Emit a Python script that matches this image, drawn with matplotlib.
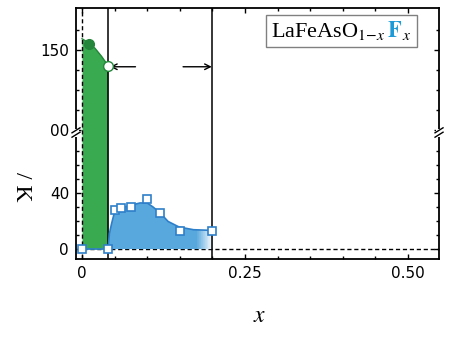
import numpy as np
import matplotlib.pyplot as plt
from matplotlib.patches import Rectangle
from matplotlib.offsetbox import AnchoredOffsetbox, HPacker, TextArea

plt.rcParams['mathtext.fontset'] = 'stix'

# Tc of the superconducting dome (open squares)
x_sc = [0, 0.04, 0.05, 0.06, 0.075, 0.10, 0.12, 0.15, 0.20]
t_sc = [0, 0, 27.6, 29.1, 30.2, 35.7, 25.7, 13.1, 13.1]

# guide-to-the-eye curve through the dome
x_sc_line = [0.04, 0.042, 0.0455, 0.05, 0.058, 0.074, 0.089, 0.10, 0.109, 0.12, 0.132, 0.149, 0.171, 0.20]
t_sc_line = [0, 11, 18.4, 26.6, 29, 31.2, 32.9, 32.9, 30, 25.7, 19.7, 15.7, 13.8, 13.3]

# magnetic (green) region boundary
x_mag = [0.0, 0.01, 0.02, 0.03, 0.036, 0.04]
t_mag = [157, 154.5, 151, 146, 142.5, 139.5]
x_mag_pts = [0.01, 0.04]
t_mag_pts = [154, 140]

x_bounds = [0.04, 0.20]
t_arrow = 139.5

xticks = [0, 0.25, 0.5]
xticklabels = ['0', '0.25', '0.50']
yticks = [0, 40, 100, 150]
yticklabels = ['0', '40', '00', '150']
yminor = [10, 20, 30, 50, 60, 70, 112.5, 125, 137.5, 162.5]

green = '#3aaa50'
dgreen = '#23863a'
blue = '#2e7fc9'
lblue = '#58a8de'

# broken y axis: two linear pieces joined at the break
yk = [-100, 80, 100, 300]
yp = [-140, 112, 119, 439]
def fwd(y):
    return np.interp(y, yk, yp)
def inv(p):
    return np.interp(p, yp, yk)

fig = plt.figure(figsize=(4.49, 3.41), dpi=100)
ax = fig.add_axes([0.1693, 0.2405, 0.8085, 0.736])
ax.set_yscale('function', functions=(fwd, inv))
ax.set_xlim(-0.0092, 0.5476)
ax.set_ylim(-7.1, 176.2)

ax.axhline(0, color='k', lw=1, ls=(0, (3, 2)), zorder=1)
ax.axvline(0, color='k', lw=1, ls=(0, (3, 2)), zorder=6)
for xb in x_bounds:
    ax.axvline(xb, color='k', lw=1.1, zorder=3)

# green region
ax.fill_between(x_mag, 0, t_mag, color=green, lw=0, zorder=2)
ax.plot(x_mag, t_mag, color=dgreen, lw=1, zorder=4)
ax.plot(x_mag_pts[0], t_mag_pts[0], 'o', color=dgreen, ms=7, zorder=5)
ax.plot(x_mag_pts[1], t_mag_pts[1], 'o', mfc='white', mec=dgreen, mew=1, ms=7, zorder=5)

# blue dome with fade on the right
poly = ax.fill(np.r_[x_sc_line, 0.2, 0.04], np.r_[t_sc_line, 0, 0],
               color=lblue, lw=0, zorder=2)[0]
n = 24
edges = np.linspace(0.176, 0.2, n + 1)
for i in range(n):
    r = ax.axvspan(edges[i], edges[i + 1], color='white', lw=0,
                   alpha=0.95 * (i + 1) / n, zorder=2.1, antialiased=False)
    r.set_clip_path(poly)
ax.plot(x_sc_line, t_sc_line, color=blue, lw=1.2, zorder=4)
ax.plot(x_sc[:2], t_sc[:2], color=blue, lw=1.2, zorder=4)
ax.plot(x_sc, t_sc, 's', mfc='white', mec=blue, mew=1.2, ms=6, ls='none',
        zorder=7, clip_on=False)

# arrows between the bounds
kw = dict(arrowstyle='->,head_length=0.4,head_width=0.2', lw=1, color='k',
          shrinkA=0, shrinkB=0)
ax.annotate('', xy=(0.043, t_arrow), xytext=(0.082, t_arrow), arrowprops=kw)
ax.annotate('', xy=(0.199, t_arrow), xytext=(0.155, t_arrow), arrowprops=kw)

# ticks
ax.set_xticks(xticks)
ax.set_xticklabels(xticklabels)
ax.set_xticks(np.arange(0.05, 0.55, 0.05), minor=True)
ax.set_yticks(yticks)
ax.set_yticklabels(yticklabels)
ax.set_yticks(yminor, minor=True)
ax.tick_params(which='both', direction='in', top=True, right=True, width=1,
               labelsize=11, pad=5)
ax.tick_params(which='major', length=3.5)
ax.tick_params(which='minor', length=2.5)
for s in ax.spines.values():
    s.set_linewidth(1.3)

# axis break marks
px, py = 1 / 363, 1 / 251
yb = (259 - 132.5) / 251
for xs in (0, 1):
    ax.add_patch(Rectangle((xs - 3 * px, yb - 4 * py), 6 * px, 8 * py,
                           transform=ax.transAxes, color='white', lw=0,
                           clip_on=False, zorder=8))
    for dy in (-2.2, 2.2):
        ax.plot([xs - 4 * px, xs + 4 * px],
                [yb + (dy - 2.5) * py, yb + (dy + 2.5) * py],
                transform=ax.transAxes, color='k', lw=1, clip_on=False, zorder=9)

# labels
ax.set_xlabel('$x$', fontsize=17, va='baseline')
ax.xaxis.set_label_coords(0.507, -0.253)
ax.set_ylabel('/ K', family='Liberation Serif', fontsize=17, rotation=270,
              ha='center', va='center')
ax.yaxis.set_label_coords(-0.149, 0.287)

# compound legend box
tp = dict(fontsize=16, family='Liberation Serif')
head = HPacker(children=[TextArea('LaFeAsO$_{1{-}x}$', textprops=tp),
                         TextArea(r'$\mathbf{F}$', textprops=dict(tp, color='#1e9ad6'))],
               align='baseline', pad=0, sep=1)
parts = HPacker(children=[head, TextArea('$_x$', textprops=tp)],
                align='baseline', pad=0, sep=0)
box = AnchoredOffsetbox(loc='upper right', child=parts, pad=0.4, borderpad=0,
                        frameon=True, bbox_to_anchor=(0.939, 0.972),
                        bbox_transform=ax.transAxes)
box.patch.set_edgecolor('#808080')
box.patch.set_linewidth(1)
box.patch.set_boxstyle('square', pad=0)
ax.add_artist(box)

plt.savefig('out.png', dpi=100)
